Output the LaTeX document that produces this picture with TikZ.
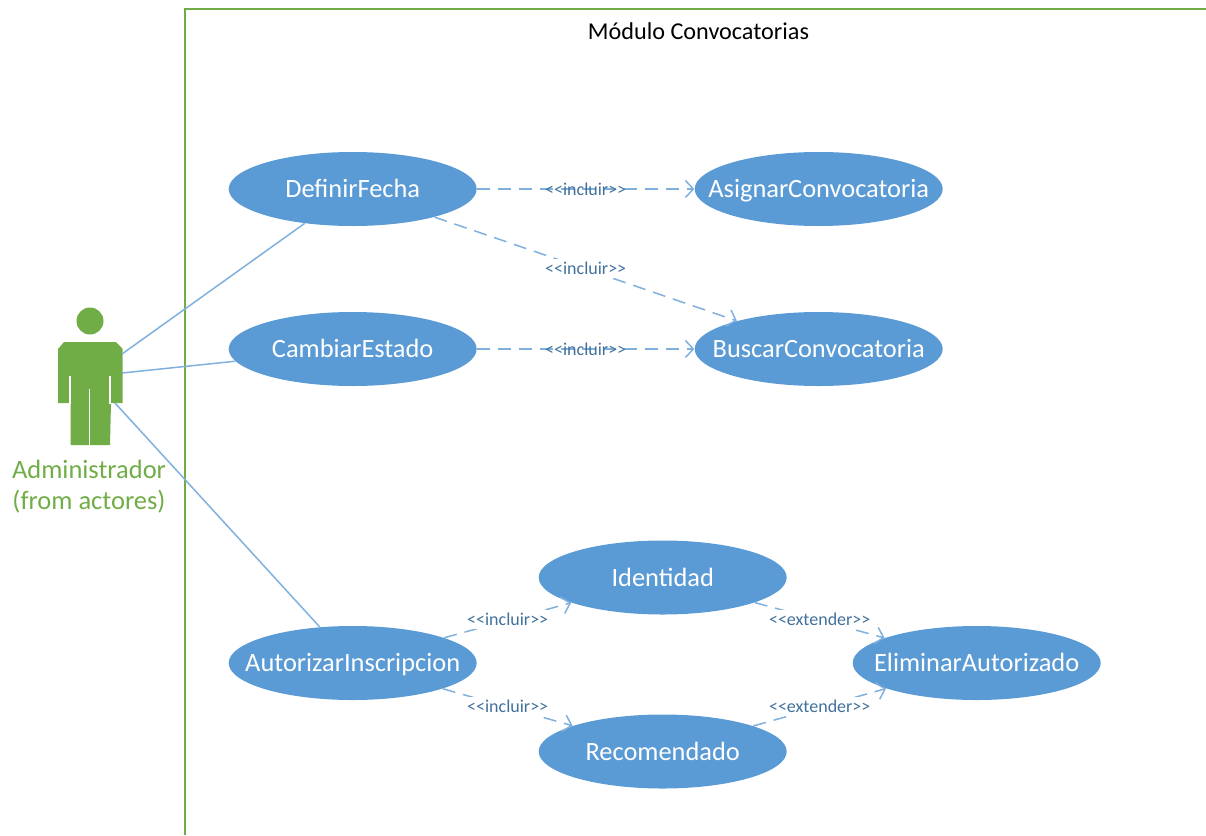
\documentclass[tikz,border=0pt]{standalone}
\usepackage{fontspec}
\setmainfont{Carlito}
\usetikzlibrary{arrows.meta,positioning,shapes.geometric}
\definecolor{casefill}{HTML}{5B9BD5}
\definecolor{linkline}{HTML}{7FB0DE}
\definecolor{labeltext}{HTML}{41719C}
\definecolor{actorgreen}{HTML}{70AD47}
\newcommand{\stereo}[1]{{<}{<}#1{>}{>}}

\begin{document}
\begin{tikzpicture}[>={Straight Barb[length=8pt,width=17pt]}, x=1pt, y=-1pt, semithick, node distance=160pt]
        \tikzstyle{usecase}=[ellipse,fill=casefill,text=white,inner xsep=-60pt,inner ysep=0pt,minimum width=248pt,minimum height=74pt,text height=23pt,text depth=6pt,font=\fontsize{26.4}{30}\selectfont]
        \tikzstyle{assoc}=[draw=linkline,line width=1.5pt]
        \tikzstyle{depend}=[->,draw=linkline,line width=1.5pt,dash pattern=on 13pt off 8pt]
        \tikzstyle{stereotype}=[text=labeltext,font=\fontsize{18}{20}\selectfont,inner sep=1pt]
        \tikzstyle{blanked}=[stereotype,fill=white,inner xsep=2pt,inner ysep=3pt,yshift=1pt]
        \useasboundingbox (0,0) rectangle (1206,835);

        % system frame
        \draw[actorgreen,line width=1.1pt] (185,835) -- (185,9) -- (1206,9);
        \node[font=\fontsize{24.2}{28}\selectfont] (title) at (698.5,31) {Módulo Convocatorias};

        % actor
        \fill[actorgreen] (90,321) circle (13.5);
        \fill[actorgreen] (64,342) -- (116,342) -- (122.7,349) -- (122.7,403) -- (111,403) -- (110,445)
            -- (70.5,445) -- (70.5,403) -- (58,403) -- (58,349) -- cycle;
        \draw[white,line width=1.2pt] (70,376) -- (70,404) (110,376) -- (110,404) (89.5,389) -- (89.5,446);
        \node[text=actorgreen,align=center,font=\fontsize{26.5}{31}\selectfont] (adminlabel) at (89,486.5) {Administrador\\(from actores)};
        \coordinate (shoulder) at (122,354);
        \coordinate (elbow) at (122,373);
        \coordinate (hand) at (115,403);

        % use cases
        \node[usecase]    (definir) at (352.7,189)           {DefinirFecha};
        \node[usecase]    (cambiar)[below of=definir]        {CambiarEstado};
        \node[usecase]    (autorizar)[below of=cambiar,node distance=314pt] {AutorizarInscripcion};
        \node[usecase]    (asignar)[right of=definir,node distance=466pt]   {AsignarConvocatoria};
        \node[usecase]    (buscar)[below of=asignar]         {BuscarConvocatoria};
        \node[usecase]    (identidad) at (662.7,577.5)       {Identidad};
        \node[usecase]    (recomendado)[below of=identidad,node distance=174pt] {Recomendado};
        \node[usecase]    (eliminar) at (976.7,663)          {EliminarAutorizado};

        \path
        (shoulder) edge[assoc] (definir)
        (elbow)    edge[assoc] (cambiar)
        (hand)     edge[assoc] (autorizar)

        (definir)
        edge[depend]    node[stereotype]{\stereo{incluir}}    (asignar)
        edge[depend]    node[blanked]{\stereo{incluir}}       (buscar)

        (cambiar)
        edge[depend]    node[stereotype]{\stereo{incluir}}    (buscar)

        (autorizar)
        edge[depend]    node[blanked]{\stereo{incluir}}       (identidad)
        edge[depend]    node[blanked]{\stereo{incluir}}       (recomendado)

        (identidad)
        edge[depend]    node[blanked]{\stereo{extender}}      (eliminar)

        (recomendado)
        edge[depend]    node[blanked]{\stereo{extender}}      (eliminar);
    \end{tikzpicture}
\end{document}
